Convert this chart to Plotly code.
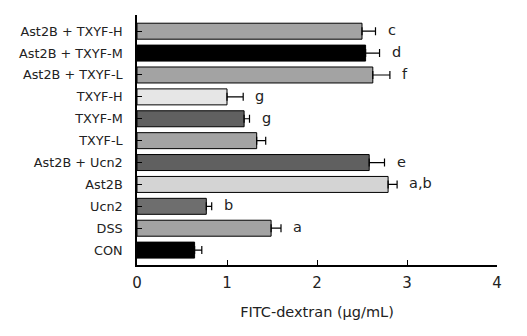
import plotly.graph_objects as go

categories = ["CON", "DSS", "Ucn2", "Ast2B", "Ast2B + Ucn2", "TXYF-L", "TXYF-M", "TXYF-H",
              "Ast2B + TXYF-L", "Ast2B + TXYF-M", "Ast2B + TXYF-H"]
values = [0.64, 1.49, 0.77, 2.79, 2.58, 1.33, 1.19, 1.00, 2.62, 2.54, 2.50]
errors = [0.08, 0.11, 0.06, 0.10, 0.17, 0.10, 0.06, 0.18, 0.19, 0.155, 0.15]
letters = ["", "a", "b", "a,b", "e", "", "g", "g", "f", "d", "c"]
colors = ["#000000", "#a3a3a3", "#6e6e6e", "#d4d4d4", "#606060", "#a3a3a3", "#606060",
          "#e6e6e6", "#a3a3a3", "#000000", "#a3a3a3"]

fig = go.Figure()
fig.add_trace(go.Bar(
    y=categories, x=values, orientation="h",
    marker=dict(color=colors, line=dict(color="#000000", width=1)),
    width=0.73,
    error_x=dict(type="data", array=errors, arrayminus=[0] * len(errors),
                 color="#000000", thickness=1.2, width=4),
    showlegend=False,
    hoverinfo="skip",
))

for c, v, e, t in zip(categories, values, errors, letters):
    if t:
        fig.add_annotation(x=v + e, y=c, text=t, showarrow=False, xanchor="left",
                           xshift=10, yshift=1,
                           font=dict(family="DejaVu Sans", size=14.5, color="#222222"))

fig.update_layout(
    width=527, height=336,
    margin=dict(l=136.5, r=30, t=15, b=71),
    paper_bgcolor="white", plot_bgcolor="white",
    font=dict(family="DejaVu Sans", color="#222222"),
)
fig.update_xaxes(
    range=[0, 4], tickvals=[0, 1, 2, 3, 4], ticks="inside", ticklen=5, tickcolor="#000",
    showline=True, linecolor="#000", linewidth=1.5, showgrid=False, zeroline=False,
    automargin=False, ticklabelstandoff=3,
    tickfont=dict(size=15), title=dict(text="FITC-dextran (μg/mL)", font=dict(size=14.5), standoff=16),
)
fig.update_yaxes(
    range=[-0.68, 10.74], ticks="inside", ticklen=5, tickcolor="#000",
    showline=True, linecolor="#000", linewidth=1.5, showgrid=False, automargin=False,
    tickfont=dict(size=12.8), ticklabelstandoff=10,
)

fig.write_html("out.html", config={"displayModeBar": False},
               post_script="document.body.style.margin='0';")
